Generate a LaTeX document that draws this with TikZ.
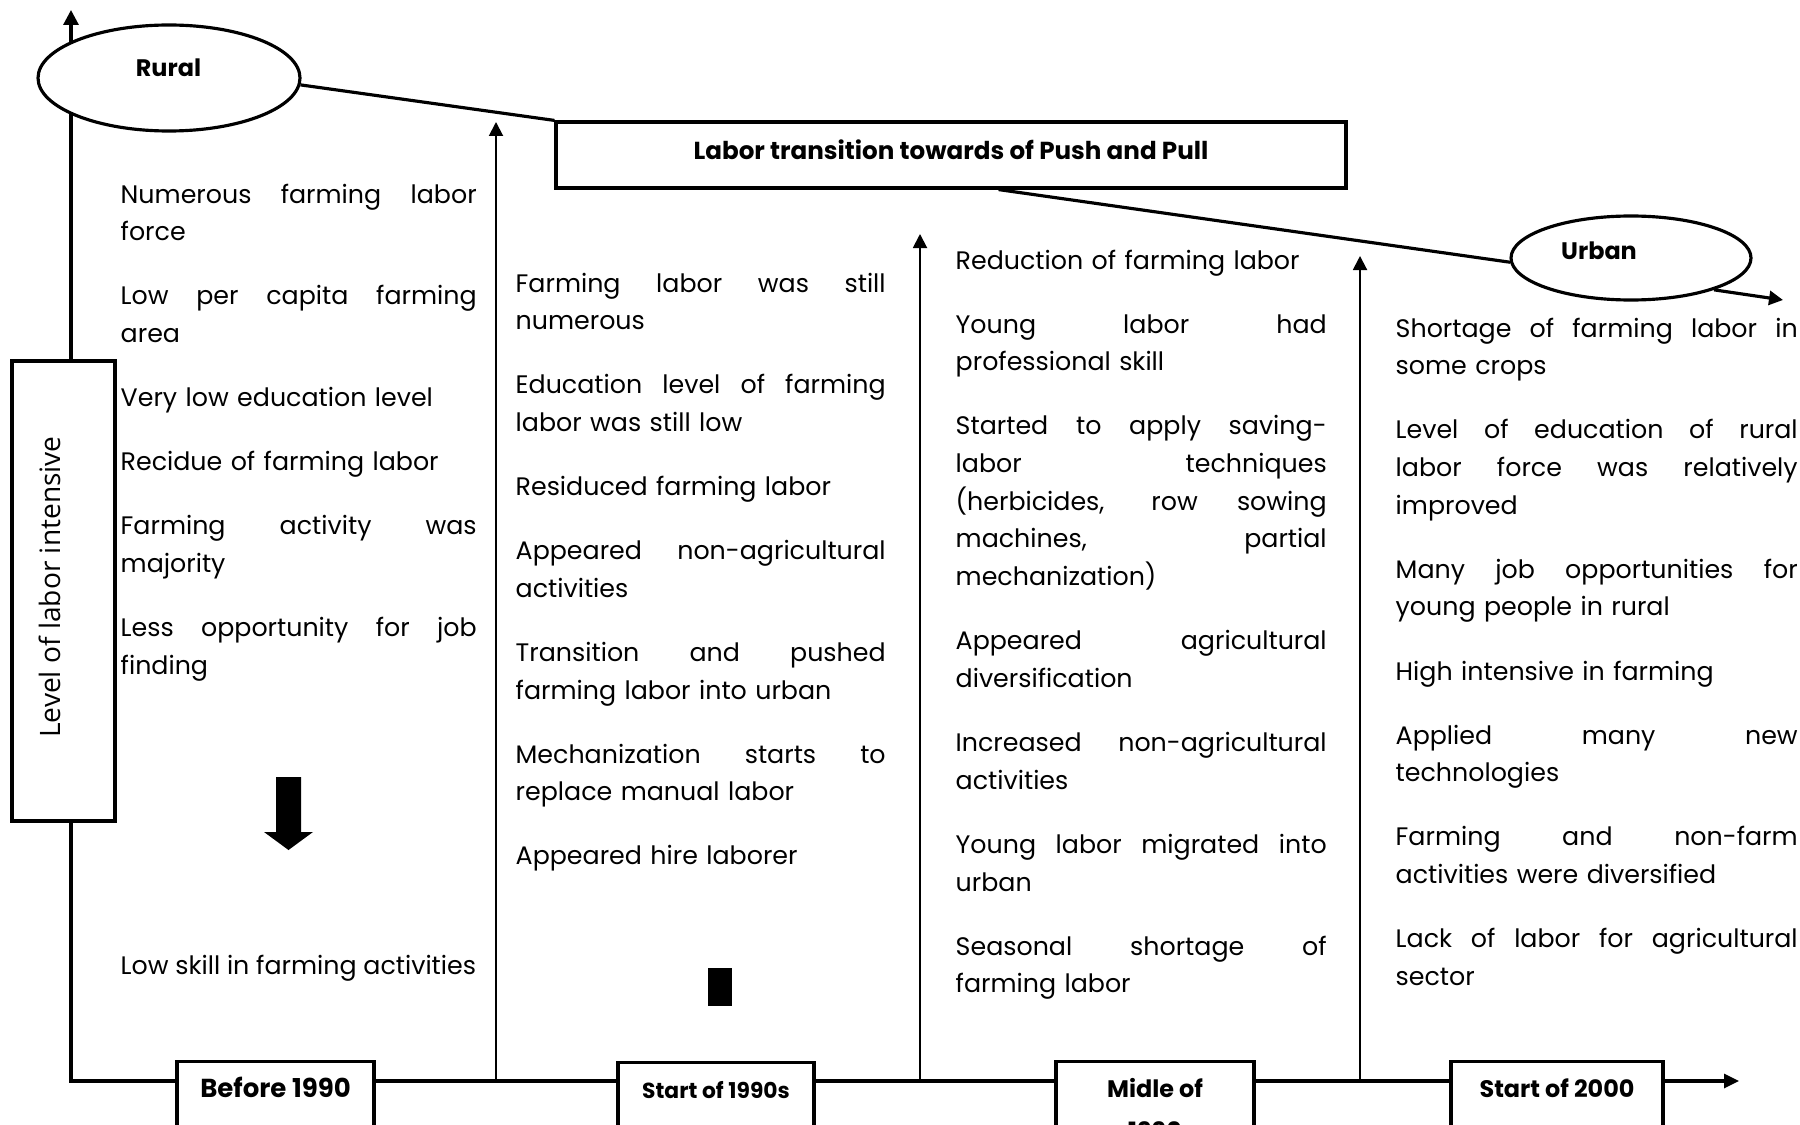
\documentclass[tikz,border=0pt]{standalone}
\usepackage{fontspec}
\setmainfont{Poppins}
\newfontfamily\sidefont{Open Sans}
\usetikzlibrary{arrows.meta,shapes.geometric,calc}

% one justified line of a column
\newcommand\jl[1]{\makebox[\hsize][s]{\spaceskip=.33em plus 1fil\relax #1}\newline}
\newcommand\bodyfont{\fontsize{7.2pt}{10.73pt}\selectfont}
\newcommand\pgap{7.5pt}

\tikzset{
  heavy/.style={line width=.9pt},
  light/.style={line width=.55pt},
  tip/.style={-{Triangle[length=1.4mm,width=1.4mm]}},
  place/.style={ellipse,draw,heavy,fill=white,inner sep=0pt},
  placename/.style={inner sep=0pt,font=\fontsize{6.8pt}{7pt}\selectfont\bfseries},
  period/.style={draw,heavy,fill=white,anchor=north,inner sep=0pt,
    text height=3.6mm,text depth=5.4mm,font=\fontsize{6.8pt}{10pt}\selectfont\bfseries},
  col/.style={anchor=base west,inner sep=0pt,align=left,font=\bodyfont},
}

\begin{document}
\begin{tikzpicture}[x=.1mm,y=-.1mm]
\useasboundingbox (0,0) rectangle (1800,1125);
\clip (0,0) rectangle (1800,1125);
\coordinate (O) at (71,1081);\coordinate (ytop) at (71,10);\coordinate (xend) at (1739,1081);
\draw[heavy,{Triangle[length=1.5mm,width=1.5mm]}-{Triangle[length=1.5mm,width=1.4mm]}] (ytop) |- (xend);
\foreach \x/\y [count=\i] in {496/122,920/234,1360/256}{
  \coordinate (b\i) at (\x,1081);\coordinate (t\i) at (\x,\y);
  \draw[light,tip] (b\i) -- (t\i);
}

% rural -> urban
\node[place,minimum width=26.2mm,minimum height=10.6mm] (rural) at (169,78) {};
\node[placename] (ruralname) at (168.5,67.5) {Rural};
\node[place,minimum width=24mm,minimum height=8.4mm] (urban) at (1631,258) {};
\node[placename] (urbanname) at (1599,250.5) {Urban};
\node[draw,heavy,fill=white,minimum width=79mm,minimum height=6.6mm,text height=1.9mm,text depth=1mm,
  font=\fontsize{7pt}{8pt}\selectfont\bfseries] (trans) at (951,155) {Labor transition towards of Push and Pull};
\coordinate (urbanend) at (1783,300);
\draw[heavy] (rural.-3) -- (trans.north west);
\draw[heavy] ($(trans.south west)!.56!(trans.south east)$) -- (urban.182);
\draw[heavy,tip] (urban.-21) -- (urbanend);

\node[draw,heavy,fill=white,minimum width=10.3mm,minimum height=46mm] (intens) at (63.5,591) {};
\node[rotate=90,inner sep=0pt,font=\sidefont\fontsize{8pt}{9pt}\selectfont] (intenslabel) at (50,587) {Level of labor intensive};

% periods
\node[period,minimum width=19.7mm,font=\fontsize{7.4pt}{10pt}\selectfont\bfseries] (p1) at (275.5,1060) {Before 1990};
\node[period,minimum width=19.6mm,font=\fontsize{6.2pt}{10pt}\selectfont\bfseries] (p2) at (716,1061) {Start of 1990s};
\node[period,minimum width=19.8mm,font=\fontsize{6.8pt}{11.8pt}\selectfont\bfseries] (p3) at (1155,1060) {\begin{tabular}[t]{@{}c@{}}Midle of\\1990\end{tabular}};
\node[period,minimum width=21.2mm] (p4) at (1557,1060) {Start of 2000};

% columns
\node[col,text width=35.6mm] (c1) at (120,203) {\jl{Numerous farming labor}force\\[\pgap]
\jl{Low per capita farming}area\\[\pgap]
Very low education level\\[\pgap]
Recidue of farming labor\\[\pgap]
\jl{Farming activity was}majority\\[\pgap]
\jl{Less opportunity for job}finding};
\node[col] (c1b) at (120,974) {Low skill in farming activities};
\node[col,text width=37mm] (c2) at (515,292) {\jl{Farming labor was still}numerous\\[\pgap]
\jl{Education level of farming}labor was still low\\[\pgap]
Residuced farming labor\\[\pgap]
\jl{Appeared non-agricultural}activities\\[\pgap]
\jl{Transition and pushed}farming labor into urban\\[\pgap]
\jl{Mechanization starts to}replace manual labor\\[\pgap]
Appeared hire laborer};
\node[col,text width=37.1mm] (c3) at (955,269) {Reduction of farming labor\\[\pgap]
\jl{Young labor had}professional skill\\[\pgap]
\jl{Started to apply saving-}\jl{labor techniques}\jl{(herbicides, row sowing}\jl{machines, partial}mechanization)\\[\pgap]
\jl{Appeared agricultural}diversification\\[\pgap]
\jl{Increased non-agricultural}activities\\[\pgap]
\jl{Young labor migrated into}urban\\[\pgap]
\jl{Seasonal shortage of}farming labor};
\node[col,text width=40.2mm] (c4) at (1395,337) {\jl{Shortage of farming labor in}some crops\\[\pgap]
\jl{Level of education of rural}\jl{labor force was relatively}improved\\[\pgap]
\jl{Many job opportunities for}young people in rural\\[\pgap]
High intensive in farming\\[\pgap]
\jl{Applied many new}technologies\\[\pgap]
\jl{Farming and non-farm}activities were diversified\\[\pgap]
\jl{Lack of labor for agricultural}sector};

% down arrow and block
\fill (276,777) -- (301,777) -- (301,832) -- (313,832) -- (288.5,850) -- (264,832) -- (276,832) -- cycle;
\fill (708,968) rectangle (732,1006);
\end{tikzpicture}
\end{document}
